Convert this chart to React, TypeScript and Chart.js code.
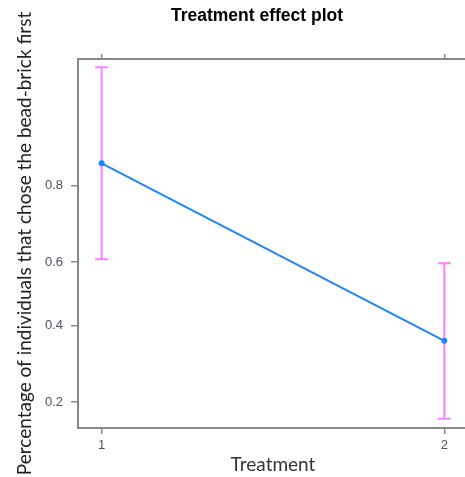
import React, { useEffect, useRef } from "react";
import { Chart, registerables, LinearScale } from "chart.js";

// ---- data ----
const TITLE = "Treatment effect plot";
const X_TITLE = "Treatment";
const Y_TITLE = "Percentage of individuals that chose the bead-brick first";
const CATEGORIES = ["1", "2"];
const X_POS = [1, 2];
const FIT = [0.842, 0.354];
const LOWER = [0.609, 0.168];
const UPPER = [0.948, 0.597];
const Y_TICKS = [0.2, 0.4, 0.6, 0.8];
const Y_MIN = 0.152;
const Y_MAX = 0.953;
const X_MIN = 0.931;
const X_MAX = 2.069;

// ---- styles ----
const GREY = "#888888";
const TICK_COLOR = "#4a5068";
const LINE_COLOR = "#1f85ff";
const CI_COLOR = "#ff80ff";
const SANS = "Lato, 'Liberation Sans', sans-serif";
const ARIAL = "'Liberation Sans', Arial, sans-serif";

const logit = (p: number) => Math.log(p / (1 - p));
const invLogit = (z: number) => 1 / (1 + Math.exp(-z));

class LogitScale extends LinearScale {
  static id = "logit";
  static defaults = {};
  parse(raw: any, index?: number) {
    const v = super.parse(raw, index as any);
    return v === null || v === undefined ? null : logit(v as number);
  }
}

Chart.register(...registerables, LogitScale as any);

const errorBars = {
  id: "errorBars",
  beforeDatasetsDraw(chart: any) {
    const { ctx } = chart;
    const xs = chart.scales.x;
    const ys = chart.scales.y;
    ctx.save();
    ctx.strokeStyle = CI_COLOR;
    ctx.lineWidth = 2;
    X_POS.forEach((xv, i) => {
      const x = xs.getPixelForValue(xv);
      const yl = ys.getPixelForValue(ys.parse(LOWER[i]));
      const yu = ys.getPixelForValue(ys.parse(UPPER[i]));
      const half = 6.5;
      ctx.beginPath();
      ctx.moveTo(x, yl);
      ctx.lineTo(x, yu);
      ctx.moveTo(x - half, yl);
      ctx.lineTo(x + half, yl);
      ctx.moveTo(x - half, yu);
      ctx.lineTo(x + half, yu);
      ctx.stroke();
    });
    ctx.restore();
  },
};

export default function App() {
  const ref = useRef<HTMLCanvasElement | null>(null);
  useEffect(() => {
    document.body.style.margin = "0";
    document.body.style.overflow = "hidden";
    const canvas = ref.current!;
    const titleSize = 17.5;
    const titlePadTop = 6;
    const titleHeight = titleSize * 1.2 + titlePadTop;
    const xTicks = (s: any) => {
      s.ticks = X_POS.map((v) => ({ value: v }));
    };
    const yTicks = (s: any) => {
      s.ticks = Y_TICKS.map((p) => ({ value: s.parse(p) }));
    };
    const chart = new Chart(canvas, {
      type: "line",
      data: {
        datasets: [
          {
            data: X_POS.map((x, i) => ({ x, y: FIT[i] })),
            borderColor: LINE_COLOR,
            backgroundColor: LINE_COLOR,
            borderWidth: 2,
            pointRadius: 3,
            pointBorderWidth: 0,
            tension: 0,
            xAxisID: "x",
            yAxisID: "y",
          },
        ],
      },
      options: {
        animation: false,
        responsive: false,
        maintainAspectRatio: false,
        layout: { padding: 0 },
        plugins: {
          legend: { display: false },
          tooltip: { enabled: false },
          title: {
            display: true,
            text: TITLE,
            color: "#000",
            font: { family: ARIAL, size: titleSize, weight: "bold", lineHeight: 1.2 },
            padding: { top: titlePadTop, bottom: 0 },
          },
        },
        scales: {
          x: {
            type: "linear",
            position: "bottom",
            min: X_MIN,
            max: X_MAX,
            afterBuildTicks: xTicks,
            afterFit: (s: any) => {
              s.height = 49;
            },
            border: { display: true, color: GREY, width: 2 },
            grid: { drawOnChartArea: false, drawTicks: true, tickLength: 6, color: GREY, lineWidth: 1.5 },
            ticks: {
              autoSkip: false,
              maxRotation: 0,
              padding: 4,
              color: TICK_COLOR,
              font: { family: ARIAL, size: 13 },
              callback: (v: any) => CATEGORIES[X_POS.indexOf(Number(v))] ?? "",
            },
            title: {
              display: true,
              text: X_TITLE,
              color: "#333",
              font: { family: SANS, size: 19, lineHeight: 1.2 },
              padding: { top: 0, bottom: 1 },
            },
          },
          xTop: {
            type: "linear",
            position: "top",
            min: X_MIN,
            max: X_MAX,
            afterBuildTicks: xTicks,
            afterFit: (s: any) => {
              s.height = 59 - titleHeight;
            },
            border: { display: true, color: GREY, width: 2 },
            grid: { drawOnChartArea: false, drawTicks: true, tickLength: 5, color: GREY, lineWidth: 1.5 },
            ticks: { display: false },
          },
          y: {
            type: "logit" as any,
            position: "left",
            min: Y_MIN,
            max: Y_MAX,
            bounds: "data",
            afterBuildTicks: yTicks,
            afterFit: (s: any) => {
              s.width = 78;
            },
            border: { display: true, color: GREY, width: 2 },
            grid: { drawOnChartArea: false, drawTicks: true, tickLength: 7, color: GREY, lineWidth: 1.5 },
            ticks: {
              autoSkip: false,
              padding: 8,
              color: TICK_COLOR,
              font: { family: ARIAL, size: 13 },
              callback: (v: any) => invLogit(Number(v)).toFixed(1),
            },
            title: {
              display: true,
              text: Y_TITLE,
              color: "#222",
              font: { family: SANS, size: 19, lineHeight: 1.2 },
              padding: { top: 13, bottom: 0 },
            },
          },
          yRight: {
            type: "logit" as any,
            position: "right",
            min: Y_MIN,
            max: Y_MAX,
            bounds: "data",
            afterBuildTicks: yTicks,
            afterFit: (s: any) => {
              s.width = 514 - 468;
            },
            border: { display: true, color: GREY, width: 2 },
            grid: { drawOnChartArea: false, drawTicks: true, tickLength: 7, color: GREY, lineWidth: 1.5 },
            ticks: { display: false },
          },
        } as any,
      },
      plugins: [errorBars],
    });
    return () => chart.destroy();
  }, []);
  return (
    <div style={{ width: 465, height: 477, overflow: "hidden", position: "relative" }}>
      <canvas ref={ref} width={514} height={477} style={{ display: "block" }} />
    </div>
  );
}
